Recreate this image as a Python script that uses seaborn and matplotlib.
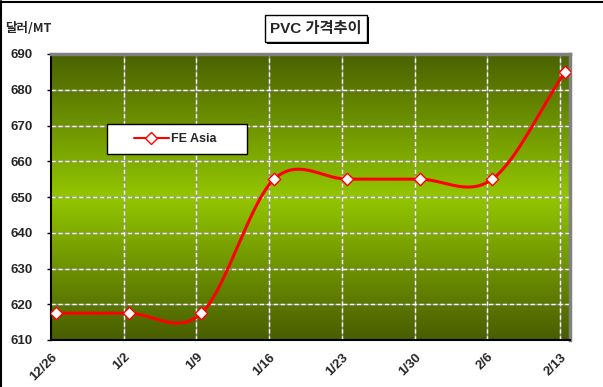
import numpy as np
import pandas as pd
import matplotlib
matplotlib.use("Agg")
import matplotlib.pyplot as plt
import seaborn as sns
from matplotlib.colors import LinearSegmentedColormap
from matplotlib.patches import Rectangle
from matplotlib.lines import Line2D

# ---- data ----
dates = ["12/26", "1/2", "1/9", "1/16", "1/23", "1/30", "2/6", "2/13"]
fe_asia = [617.5, 617.5, 617.5, 655, 655, 655, 655, 685]
y_ticks = [610, 620, 630, 640, 650, 660, 670, 680, 690]
series_name = "FE Asia"
title = "PVC 가격추이"
y_unit = "달러/MT"

sns.set_theme(style="white")
plt.rcParams["font.family"] = ["Liberation Sans", "Noto Sans CJK KR", "DejaVu Sans"]

W, H = 603, 387
fig = plt.figure(figsize=(W / 100, H / 100), dpi=100)
fig.patch.set_facecolor("white")

def fx(px):
    return px / W

def fy(py):
    return 1 - py / H

ax = fig.add_axes([fx(51), fy(340), fx(570) - fx(51), fy(54) - fy(340)])

x = np.arange(len(dates), dtype=float)
y = np.array(fe_asia, dtype=float)

# Excel-like smoothing (cardinal / Catmull-Rom spline through the data)
m = np.zeros_like(y)
m[1:-1] = (y[2:] - y[:-2]) / 2
m[0] = y[1] - y[0]
m[-1] = y[-1] - y[-2]
xs, ys = [], []
t = np.linspace(0, 1, 40)
h00 = 2 * t**3 - 3 * t**2 + 1
h10 = t**3 - 2 * t**2 + t
h01 = -2 * t**3 + 3 * t**2
h11 = t**3 - t**2
for i in range(len(x) - 1):
    xs.extend(x[i] + t)
    ys.extend(h00 * y[i] + h10 * m[i] + h01 * y[i + 1] + h11 * m[i + 1])
smooth = pd.DataFrame({"x": xs, "y": ys})
pts = pd.DataFrame({"x": x, "y": y})

x_off = 0.0688
ax.set_xlim(-x_off, len(dates) - 1 + x_off)
ax.set_ylim(610, 690)

# gradient background
cmap = LinearSegmentedColormap.from_list(
    "olive", [(0, "#485d00"), (0.5, "#93c600"), (1, "#4a6200")])
grad = np.linspace(0, 1, 256).reshape(-1, 1)
ax.imshow(grad, cmap=cmap, aspect="auto", origin="lower",
          extent=[-x_off, len(dates) - 1 + x_off, 610, 690], zorder=0)

# gridlines
for yv in y_ticks[1:-1]:
    ax.axhline(yv, color="#8f8f8f", lw=1, zorder=1)
    ax.axhline(yv, color="white", lw=1, ls=(0, (3, 2)), zorder=1.1)
for i in range(1, len(dates)):
    ax.axvline(i - x_off, color="#8f8f8f", lw=1, zorder=1)
    ax.axvline(i - x_off, color="white", lw=1, ls=(0, (3, 2)), zorder=1.1)

sns.lineplot(data=smooth, x="x", y="y", sort=False, color="#ff0000",
             lw=2.2, ax=ax, zorder=3, legend=False)
sns.scatterplot(data=pts, x="x", y="y", marker="D", s=40, color="white",
                edgecolor="#ff0000", linewidth=1, ax=ax, zorder=4, legend=False)

ax.set_xlabel("")
ax.set_ylabel("")
ax.set_xticks([i - x_off for i in range(len(dates))])
ax.set_xticklabels(dates, rotation=45, ha="right", va="top",
                   rotation_mode="anchor", fontsize=9.5, fontweight="bold")
ax.set_yticks(y_ticks)
ax.set_yticklabels([str(v) for v in y_ticks], fontsize=9.5, fontweight="bold")
ax.tick_params(axis="x", length=0, pad=8)
ax.tick_params(axis="y", length=3, width=1, direction="out", color="black",
               pad=10, left=True)

for s in ["left", "bottom"]:
    ax.spines[s].set_color("black")
    ax.spines[s].set_linewidth(1.5)
for s in ["top", "right"]:
    ax.spines[s].set_color("#808080")
    ax.spines[s].set_linewidth(2.5)

# y unit label
fig.text(fx(5), fy(29), y_unit, ha="left", va="center", fontsize=9,
         fontweight="bold", family=["Noto Sans CJK KR", "DejaVu Sans"])

# title box with shadow
fig.patches.append(Rectangle((fx(267), fy(44)), fx(102), fy(0) - fy(27),
                             transform=fig.transFigure, fc="black", ec="none", zorder=5))
fig.patches.append(Rectangle((fx(265), fy(42)), fx(102), fy(0) - fy(27),
                             transform=fig.transFigure, fc="white", ec="black", lw=1, zorder=6))
fig.text(fx(316), fy(28.5), title, ha="center", va="center", fontsize=11,
         fontweight="bold", zorder=7,
         family=["Liberation Sans", "Noto Sans CJK KR", "DejaVu Sans"])

# legend box
ax.add_patch(Rectangle((fx(107), fy(154)), fx(140), fy(0) - fy(30),
                       transform=fig.transFigure, fc="white", ec="black", lw=1,
                       zorder=6, clip_on=False))
h = Line2D([], [], color="#ff0000", lw=1.5, marker="D", markersize=6,
           markerfacecolor="white", markeredgecolor="#ff0000", markeredgewidth=1)
leg = ax.legend([h], [series_name], loc="center",
                bbox_to_anchor=(fx(175), fy(139)), bbox_transform=fig.transFigure,
                frameon=False, handlelength=2.8, handletextpad=0.2,
                prop={"weight": "bold", "size": 9})
leg.set_zorder(7)

# figure border (left/top)
fig.add_artist(Line2D([fx(1), fx(1)], [0, fy(1)], transform=fig.transFigure,
                      color="black", lw=1.5))
fig.add_artist(Line2D([fx(1), 1], [fy(1.5), fy(1.5)], transform=fig.transFigure,
                      color="black", lw=1.5))

fig.savefig("out.png", dpi=100)
